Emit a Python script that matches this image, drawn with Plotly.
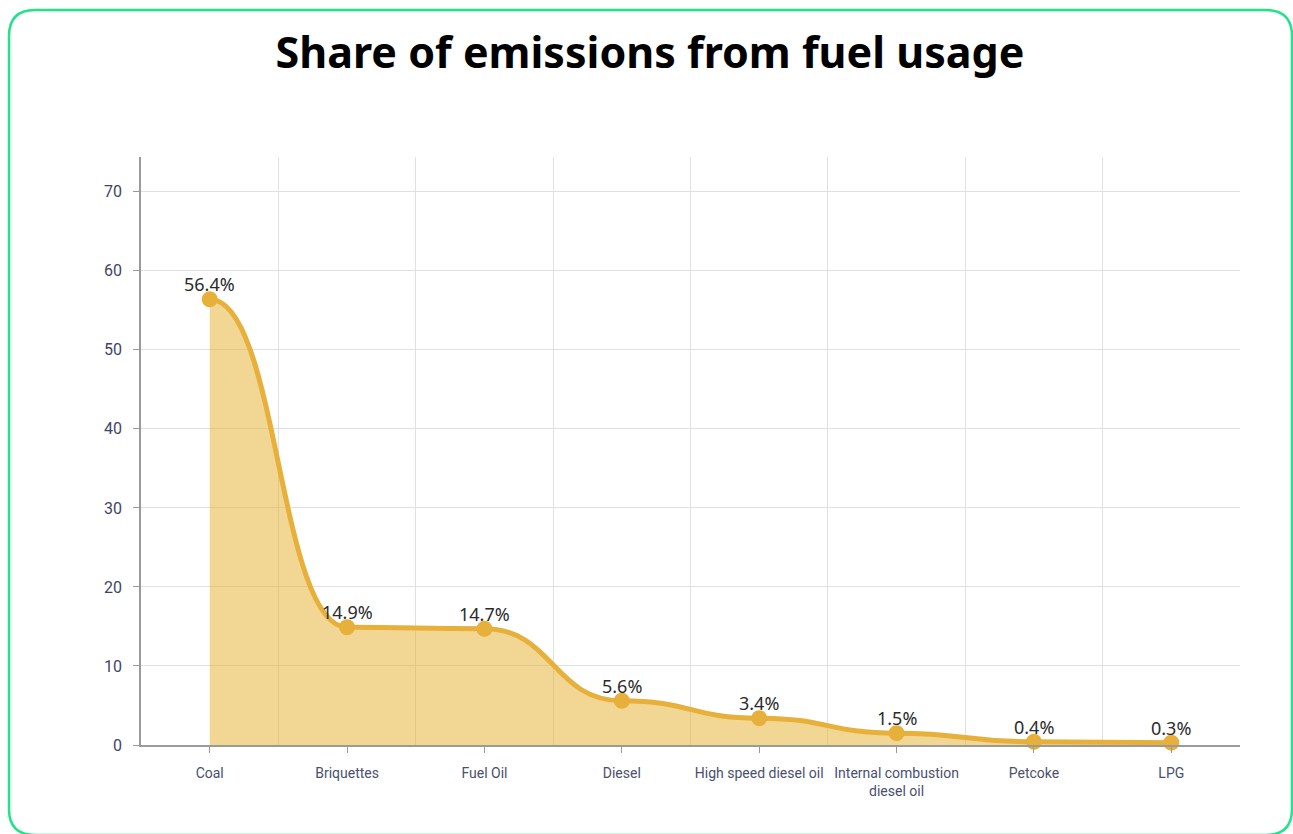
import plotly.graph_objects as go

# Fuel categories and their share of emissions (%)
fuels = ["Coal", "Briquettes", "Fuel Oil", "Diesel", "High speed diesel oil",
         "Internal combustion<br>diesel oil", "Petcoke", "LPG"]
shares = [56.4, 14.9, 14.7, 5.6, 3.4, 1.5, 0.4, 0.3]
y_ticks = [0, 10, 20, 30, 40, 50, 60, 70]

W, H = 1293, 834
L, R, T, B = 141, 1240, 157, 745  # plot area in pixels


def px(x):
    return (x - L) / (R - L)


def py(y):
    return (B - y) / (B - T)


positions = list(range(len(fuels)))
line_color = "#e6b03b"
fill_color = "rgba(232,180,58,0.55)"
SMOOTH = 0.5  # horizontal reach of the bezier handles, as a share of the step


def smooth_path(xs, ys):
    """Cubic bezier path through the points with flat handles at each point."""
    parts = [f"M {xs[0]},{ys[0]}"]
    for i in range(len(xs) - 1):
        step = xs[i + 1] - xs[i]
        c1 = (xs[i] + SMOOTH * step, ys[i])
        c2 = (xs[i + 1] - SMOOTH * step, ys[i + 1])
        parts.append(f"C {c1[0]},{c1[1]} {c2[0]},{c2[1]} {xs[i+1]},{ys[i+1]}")
    return " ".join(parts)


curve = smooth_path(positions, shares)
area = curve + f" L {positions[-1]},0 L {positions[0]},0 Z"

fig = go.Figure()

# Area under the curve (translucent, so the grid shows through)
fig.add_shape(type="path", path=area, xref="x", yref="y",
              fillcolor=fill_color, line=dict(width=0), layer="between")
# The smoothed line itself
fig.add_shape(type="path", path=curve, xref="x", yref="y",
              line=dict(color=line_color, width=5), layer="between")

# Point markers
fig.add_trace(go.Scatter(
    x=positions, y=shares, mode="markers",
    marker=dict(color=line_color, size=16),
    hoverinfo="skip", cliponaxis=False,
))

# Value labels above each point
for xp, v in zip(positions, shares):
    fig.add_annotation(x=xp, y=v, text=f"{v}%", showarrow=False,
                       yshift=15, xanchor="center", yanchor="middle",
                       font=dict(family="Noto Sans", size=18, color="#2b2b2b"))

# Card outline with rounded corners
x0, x1, y0, y1, r = 9, 1292, 10, 835, 26
path = (f"M {px(x0+r)},{py(y0)} L {px(x1-r)},{py(y0)} "
        f"Q {px(x1)},{py(y0)} {px(x1)},{py(y0+r)} "
        f"L {px(x1)},{py(y1-r)} Q {px(x1)},{py(y1)} {px(x1-r)},{py(y1)} "
        f"L {px(x0+r)},{py(y1)} Q {px(x0)},{py(y1)} {px(x0)},{py(y1-r)} "
        f"L {px(x0)},{py(y0+r)} Q {px(x0)},{py(y0)} {px(x0+r)},{py(y0)} Z")
fig.add_shape(type="path", path=path, xref="paper", yref="paper",
              line=dict(color="#22e38c", width=2.5), layer="below")

fig.update_layout(
    width=W, height=H,
    margin=dict(l=L, r=W - R, t=T, b=H - B),
    paper_bgcolor="white", plot_bgcolor="white",
    showlegend=False,
    title=dict(text="<b>Share of emissions from fuel usage</b>",
               x=650 / W, xref="container", xanchor="center",
               y=1 - 53 / H, yanchor="middle",
               font=dict(family="Noto Sans", size=43, color="#000000")),
    xaxis=dict(
        range=[-0.5, len(fuels) - 0.5],
        tickmode="array", tickvals=positions, ticktext=fuels,
        showgrid=False, zeroline=False,
        showline=True, linecolor="#9a9a9a", linewidth=1.5,
        ticks="outside", ticklen=6, tickcolor="#9a9a9a",
        ticklabelstandoff=8,
        tickfont=dict(family="Roboto", size=14, color="#4a4f6e"),
        minor=dict(tickvals=[p + 0.5 for p in positions[:-1]],
                   showgrid=True, gridcolor="#e0e0e0", gridwidth=1,
                   ticks=""),
    ),
    yaxis=dict(
        range=[0, 74.4],
        tickmode="array", tickvals=y_ticks,
        showgrid=True, gridcolor="#e0e0e0", gridwidth=1,
        zeroline=False,
        showline=True, linecolor="#9a9a9a", linewidth=1.5,
        ticks="outside", ticklen=6, tickcolor="#9a9a9a",
        ticklabelstandoff=8,
        tickfont=dict(family="Roboto", size=16, color="#3f4566"),
    ),
)

fig.write_html("out.html")
